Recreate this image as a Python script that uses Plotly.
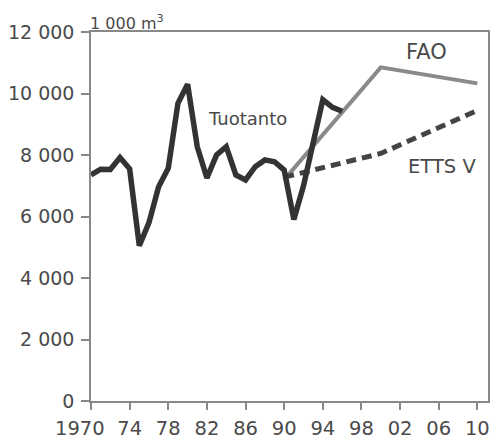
import plotly.graph_objects as go

years = list(range(1970, 1997))
tuotanto = [7350, 7540, 7530, 7920, 7550, 5050, 5800, 6970, 7570, 9680, 10300,
            8270, 7250, 8000, 8270, 7350, 7190, 7620, 7840, 7780, 7510,
            5900, 7000, 8450, 9800, 9550, 9420]
fao_years = [1990, 2000, 2010]
fao = [7200, 10850, 10330]
etts_years = [1990, 2000, 2010]
etts = [7280, 8050, 9450]

xtick_vals = [1970, 1974, 1978, 1982, 1986, 1990, 1994, 1998, 2002, 2006, 2010]
xtick_text = ["1970", "74", "78", "82", "86", "90", "94", "98", "02", "06", "10"]
ytick_vals = [0, 2000, 4000, 6000, 8000, 10000, 12000]
ytick_text = ["0", "2 000", "4 000", "6 000", "8 000", "10 000", "12 000"]

font = "'DejaVu Sans', sans-serif"

fig = go.Figure()
fig.add_trace(go.Scatter(x=fao_years, y=fao, mode="lines",
                         line=dict(color="#8a8a8a", width=4), showlegend=False))
fig.add_trace(go.Scatter(x=etts_years, y=etts, mode="lines",
                         line=dict(color="#444444", width=5, dash="10px,6px"), showlegend=False))
fig.add_trace(go.Scatter(x=years, y=tuotanto, mode="lines",
                         line=dict(color="#333333", width=5.5), showlegend=False))

# first x label is offset left in the original, drawn as an annotation
axis_ticktext = [""] + xtick_text[1:]

fig.update_layout(
    width=494, height=440,
    margin=dict(l=91, r=6, t=32, b=39),
    paper_bgcolor="white", plot_bgcolor="white",
    font=dict(family=font, color="#4a4a4a", size=19),
    xaxis=dict(range=[1970, 2011.1], tickvals=xtick_vals, ticktext=axis_ticktext,
               showgrid=False, zeroline=False, showline=True, linecolor="#888888",
               linewidth=1.5, mirror=True, ticks="outside", ticklen=7,
               tickcolor="#888888", tickwidth=1.5, tickfont=dict(size=19.5),
               ticklabelstandoff=2, tickangle=0, automargin=False),
    yaxis=dict(range=[0, 12000], tickvals=ytick_vals, ticktext=ytick_text,
               showgrid=False, zeroline=False, showline=True, linecolor="#888888",
               linewidth=1.5, mirror=True, ticks="outside", ticklen=8,
               tickcolor="#888888", tickwidth=1.5, tickfont=dict(size=19),
               ticklabelstandoff=3, automargin=False),
    annotations=[
        dict(text=xtick_text[0], x=xtick_vals[0], xref="x", yref="paper", y=0,
             xanchor="center", yanchor="top", showarrow=False,
             font=dict(size=19.5), xshift=-11, yshift=-14),
        dict(text="1 000 m<sup>3</sup>", xref="paper", yref="paper", x=0.0, y=1.0,
             xanchor="left", yanchor="bottom", showarrow=False, font=dict(size=16),
             xshift=-3, yshift=-3),
        dict(text="Tuotanto", x=1986.2, y=9200, xanchor="center", yanchor="middle",
             showarrow=False, font=dict(size=18)),
        dict(text="FAO", x=2004.7, y=11350, xanchor="center", yanchor="middle",
             showarrow=False, font=dict(size=21)),
        dict(text="ETTS V", x=2006.3, y=7640, xanchor="center", yanchor="middle",
             showarrow=False, font=dict(size=19.5)),
    ],
)

fig.write_html("out.html", config={"displayModeBar": False},
               post_script="document.body.style.margin='0px';document.body.style.overflow='hidden';")
